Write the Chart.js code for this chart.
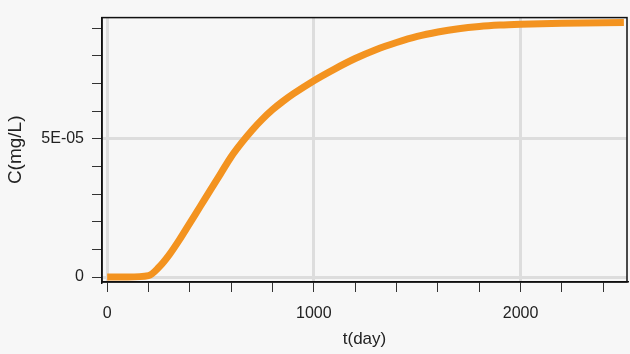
<!DOCTYPE html>
<html>
<head>
<meta charset="utf-8">
<script src="https://cdn.jsdelivr.net/npm/chart.js@4"></script>
<style>
  html, body { margin: 0; padding: 0; background: #f7f7f7; }
  #wrap { width: 630px; height: 354px; }
</style>
</head>
<body>
<div id="wrap"><canvas id="concChart" width="630" height="354"></canvas></div>
<script>
// time (day) and concentration (mg/L)
const tValues = [0, 100, 200, 250, 300, 350, 400, 450, 500, 550, 600, 650, 700, 750, 800, 850, 900,
  1000, 1100, 1200, 1300, 1400, 1500, 1600, 1700, 1800, 1900, 2000, 2200, 2500];
const cValues = [0, 0, 0.05e-5, 0.35e-5, 0.8e-5, 1.35e-5, 1.95e-5, 2.55e-5, 3.15e-5, 3.75e-5,
  4.35e-5, 4.85e-5, 5.3e-5, 5.7e-5, 6.05e-5, 6.35e-5, 6.62e-5, 7.1e-5, 7.52e-5, 7.9e-5,
  8.22e-5, 8.48e-5, 8.7e-5, 8.86e-5, 8.98e-5, 9.06e-5, 9.11e-5, 9.14e-5, 9.18e-5, 9.2e-5];

const xTicks = [0, 200, 400, 600, 800, 1000, 1200, 1400, 1600, 1800, 2000, 2200, 2400];
const xLabels = {0: '0', 1000: '1000', 2000: '2000'};
const yTicks = [0, 1e-5, 2e-5, 3e-5, 4e-5, 5e-5, 6e-5, 7e-5, 8e-5, 9e-5];
const yLabels = ['0', '', '', '', '', '5E-05', '', '', '', ''];

const xTitle = 't(day)';
const yTitle = 'C(mg/L)';

const frame = {
  id: 'frame',
  afterDraw(chart) {
    const a = chart.chartArea, c = chart.ctx;
    c.save();
    c.strokeStyle = '#111';
    c.lineWidth = 1.5;
    c.strokeRect(a.left, a.top, a.right - a.left, a.bottom - a.top);
    c.restore();
  }
};

const font = {family: 'Liberation Sans, Arial, sans-serif', size: 16};

new Chart(document.getElementById('concChart'), {
  type: 'line',
  data: {
    datasets: [{
      data: tValues.map((t, i) => ({x: t, y: cValues[i]})),
      borderColor: '#f39320',
      borderWidth: 7,
      pointRadius: 0,
      cubicInterpolationMode: 'monotone',
      fill: false
    }]
  },
  options: {
    responsive: false,
    animation: false,
    layout: {padding: {top: 14, right: 3, left: 0, bottom: 0}},
    plugins: {legend: {display: false}, tooltip: {enabled: false}},
    scales: {
      x: {
        type: 'linear',
        min: -25,
        max: 2515,
        afterBuildTicks: axis => { axis.ticks = xTicks.map(v => ({value: v})); },
        afterFit: axis => { axis.height = 72; },
        ticks: {
          color: '#222', font: font, padding: 12, maxRotation: 0, autoSkip: false,
          callback: v => xLabels[v] || ''
        },
        grid: {
          color: ctx => (ctx.tick && xLabels[ctx.tick.value] !== undefined) ? '#dddddd' : 'rgba(0,0,0,0)',
          lineWidth: 3,
          tickColor: '#333',
          tickWidth: 1,
          tickLength: 10
        },
        border: {display: true, color: '#111', width: 1.5},
        title: {display: true, text: xTitle, color: '#222', font: {family: font.family, size: 17}, padding: {top: 0}}
      },
      y: {
        min: -0.18e-5,
        max: 9.38e-5,
        afterBuildTicks: axis => { axis.ticks = yTicks.map(v => ({value: v})); },
        afterFit: axis => { axis.width = 102; },
        ticks: {
          color: '#222', font: font, padding: 8, autoSkip: false,
          callback: (v, i) => yLabels[i]
        },
        grid: {
          color: ctx => (ctx.tick && (ctx.tick.value === 0 || ctx.tick.value === 5e-5)) ? '#dddddd' : 'rgba(0,0,0,0)',
          lineWidth: 3,
          tickColor: '#333',
          tickWidth: 1,
          tickLength: 10
        },
        border: {display: true, color: '#111', width: 1.5},
        title: {display: true, text: yTitle, color: '#222', font: {family: font.family, size: 19}, padding: {bottom: 0}}
      }
    }
  },
  plugins: [frame]
});
</script>
</body>
</html>
